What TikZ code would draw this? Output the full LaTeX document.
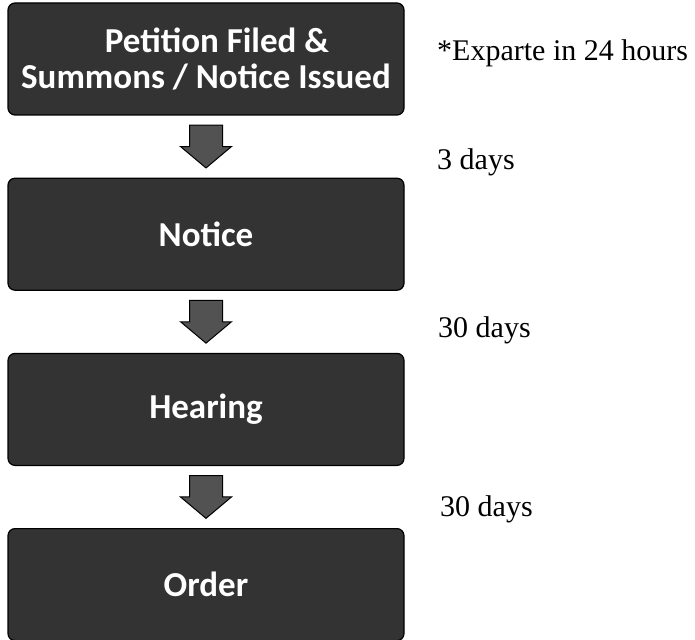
\documentclass[tikz,border=0pt]{standalone}
\usepackage{fontspec}
\setmainfont{Liberation Serif}
\newfontfamily\boxfont{Carlito}
\usetikzlibrary{positioning, shapes.arrows, calc}
\tikzset{
  stagebox/.style={
	rectangle, rounded corners=7pt, % soft corners like the scan
	draw=black, line width=1.2pt,
	fill=black!80,
	text=white,
	font=\boxfont\bfseries\fontsize{35}{36}\selectfont,
	align=center,
	minimum width=396pt, minimum height=112pt,
  },
  downarrow/.style={
	single arrow, shape border rotate=270, % points down
	draw=black, line width=1pt, fill=black!68,
	inner xsep=16pt, inner ysep=14pt, % shaft width / length
	single arrow tip angle=100,
	single arrow head extend=9pt, single arrow head indent=0pt,
	yshift=7pt, % center the whole arrow in the gap
  },
  timenote/.style={
	anchor=base west, inner sep=0pt,
	font=\fontsize{30}{36}\selectfont,
  },
}

\begin{document}
\begin{tikzpicture}[x=1pt, y=-1pt]
\useasboundingbox (0,0) rectangle (695,639);

\node[stagebox] (filed) at (206,59) {\hspace*{22pt}Petition Filed \&\\Summons / Notice Issued};
\node[stagebox, below=62pt of filed] (notice) {Notice};
\node[stagebox, below=62pt of notice] (hearing) {Hearing};
\node[stagebox, below=62pt of hearing] (order) {Order};

\path (filed) -- node[downarrow] (arr1) {} (notice);
\path (notice) -- node[downarrow] (arr2) {} (hearing);
\path (hearing) -- node[downarrow] (arr3) {} (order);

\node[timenote] (exparte) at (437,61) {*Exparte in 24 hours};
\node[timenote] (days1) at (437,169) {3 days};
\node[timenote] (days2) at (438,337) {30 days};
\node[timenote] (days3) at (440,516) {30 days};
\end{tikzpicture}
\end{document}
